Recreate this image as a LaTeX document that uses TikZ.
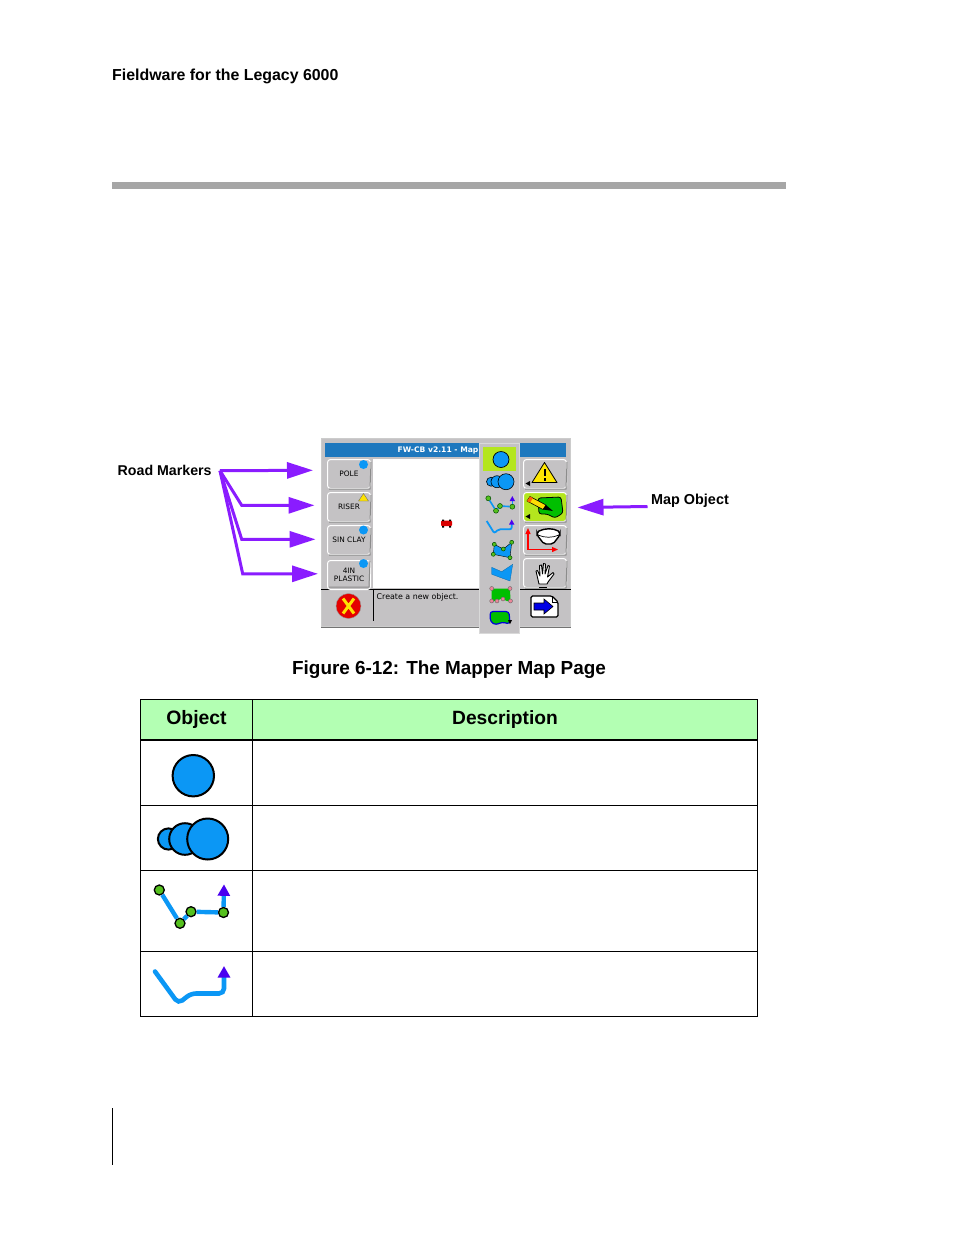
\documentclass[tikz,border=0pt]{standalone}
\usepackage{fontspec}
\setmainfont{Liberation Sans}
\newfontfamily\screenfont{DejaVu Sans}
\usetikzlibrary{arrows.meta,calc}
\definecolor{objblue}{HTML}{0B97F5}
\definecolor{arrowpurple}{HTML}{8A1CFF}
\definecolor{tiparrow}{HTML}{4A00F0}
\definecolor{dotgreen}{HTML}{55C01E}
\definecolor{headgreen}{HTML}{B3FFB3}
\definecolor{limehi}{HTML}{B4E61E}
\definecolor{panelgrey}{HTML}{C4C2C4}
\definecolor{titleblue}{HTML}{1E78BE}

\begin{document}
\begin{tikzpicture}[x=1pt,y=-1pt] % one unit is one pixel of the page, y runs down
\tikzset{pagetext/.style={font=\bfseries\fontsize{#1}{#1}\selectfont,inner sep=0pt}}
\tikzset{callout/.style={draw=arrowpurple,line width=3pt,-{Triangle[length=26pt,width=16pt]}}}
\tikzset{softkey/.style={draw=white,fill=panelgrey,rounded corners=3pt,line width=1pt,minimum width=43pt,minimum height=29pt,inner sep=0pt,anchor=north west,align=center,font=\screenfont\fontsize{7.4}{8.2}\selectfont}}
\tikzset{tablecell/.style={draw=black,line width=0.8pt}}
\tikzset{blobj/.style={draw=black,fill=objblue}}
\tikzset{bigdot/.style={circle,draw=black,fill=dotgreen,line width=1pt,minimum size=10pt,inner sep=0pt}}
\tikzset{smalldot/.style={circle,draw=black!70!green,fill=dotgreen,line width=0.5pt,minimum size=5pt,inner sep=0pt}}
\tikzset{pinkdot/.style={circle,draw=black!60,fill=pink!70!purple,line width=0.4pt,minimum size=4pt,inner sep=0pt}}
\useasboundingbox[fill=white] (0,0) rectangle (954,1235);

% page furniture
\node[pagetext=15.9,anchor=west] (runninghead) at (112,76.3) {Fieldware for the Legacy 6000};
\fill[black!35] (112,182) rectangle (785.5,189);
\draw[line width=1pt] (112.5,1108) -- (112.5,1165);

% the screen
\fill[panelgrey,draw=black!20,line width=0.8pt] (321,438) rectangle (570.5,626);
\draw[black!55,line width=0.8pt] (321,627) -- (570.5,627);
\fill[titleblue] (325,443) rectangle (566,457);
\node[font=\screenfont\bfseries\fontsize{7.6}{8}\selectfont,text=white,inner sep=0pt,anchor=west] (titletext) at (397.5,450) {FW-CB v2.11 - Map};
\fill[white] (373,459) rectangle (480,588);
\draw[black,line width=1pt] (321,589) -- (570.5,589);
\draw[black,line width=1pt] (373,589) -- (373,621);
\node[softkey] (polekey) at (327,459) {POLE};
\node[softkey] (riserkey) at (327,492) {RISER};
\node[softkey] (sinkey) at (327,525) {SIN CLAY};
\node[softkey,yshift=-2pt] (plastickey) at (327,558) {4IN\\PLASTIC};
\fill[objblue] (363.5,464.5) circle (4.5);
\fill[objblue] (363.5,530) circle (4.5);
\fill[objblue] (363.5,563.5) circle (4.5);
\draw[black!60,fill=yellow!85!orange,line width=0.3pt] (363.5,493.5) -- (368.5,501) -- (358.5,501) -- cycle;
\node[softkey] (warnkey) at (523,459) {};
\node[softkey,fill=limehi] (drawkey) at (523,492) {};
\node[softkey] (axeskey) at (523,525) {};
\node[softkey] (handkey) at (523,558) {};
\foreach \keyname in {polekey,riserkey,sinkey,warnkey,drawkey,axeskey,handkey} \draw[black!45,line width=1pt] ($(\keyname.south west)+(2,0)$) -- ($(\keyname.south east)+(-1,0)$) -- ($(\keyname.north east)+(0,3)$);
\draw[black!45,line width=1pt] (329,587) -- (369,587) -- (370,561);

% red marker in the map
\fill[red!85!black,rounded corners=1pt] (441,520.5) rectangle (452,526);
\fill[black] (442,519.5) rectangle (444,521) (449,519.5) rectangle (451,521) (442,526) rectangle (444,527.5) (449,526) rectangle (451,527.5);

\node[font=\screenfont\fontsize{7.9}{9}\selectfont,inner sep=0pt,anchor=west] (statustext) at (376.5,597) {Create a new object.};
\node[circle,fill=red!90!black,draw=black!40,minimum size=25pt,inner sep=0pt] (cancelbtn) at (348.5,606) {};
\draw[yellow!85!orange,line width=3pt] (343,598.5) -- (354,613.5) (354,598.5) -- (343,613.5);

% right hand icons
\draw[black,fill=yellow!90!orange,line width=0.8pt,line join=round] (544.5,462.5) -- (557,482.5) -- (532,482.5) -- cycle;
\draw[black,line width=2pt] (544.5,469) -- (544.5,476) (544.5,478) -- (544.5,480.5);
\fill[black] (525.5,483.5) -- (530,481) -- (530,486) -- cycle;
\draw[black,fill=green!75!black,line width=0.8pt,rounded corners=2.5pt] (538,498) -- (561,497) -- (563,513) -- (555,518) -- (547,514) -- (539,514) -- cycle;
\draw[black,fill=yellow!80!orange,line width=0.6pt] (527,501) -- (530,496.5) -- (546,505) -- (543,509.5) -- cycle;
\fill[orange!80!red] (527,501) -- (530,496.5) -- (533,498) -- (530,502.6) -- cycle;
\fill[black] (543,509.5) -- (546,505) -- (553,511) -- cycle;
\fill[black] (525.5,516.5) -- (530,514) -- (530,519) -- cycle;
\draw[red,line width=1.2pt,-{Triangle[length=6pt,width=5pt]}] (528,549.5) -- (528,528);
\draw[red,line width=1.2pt,-{Triangle[length=6pt,width=5pt]}] (528,549.5) -- (558,549.5);
\draw[black,fill=white,line width=1.4pt,rounded corners=2pt] (537,532) .. controls (545,528) and (553,528) .. (560,532) -- (560,535) -- (553,544) -- (544,544) -- (537,535) -- cycle;
\draw[black,line width=0.7pt] (538,535) .. controls (545,538) and (552,538) .. (559,535);
% the hand
\draw[black,fill=white,line width=0.9pt,line join=round] (539,584) -- (536,571) -- (537.5,570.5) -- (540,576) -- (539.5,565.5) -- (541.5,565) -- (542.5,574) -- (543.5,563.5) -- (545.5,564) -- (545,574) -- (548,565.5) -- (549.5,566) -- (547.5,577) -- (553,572.5) -- (554,574) -- (548,582) -- (547,584) -- cycle;
\draw[black,line width=0.6pt] (539,587) -- (547,587);
% page with arrow
\draw[black,fill=white,line width=1.2pt,rounded corners=1.5pt] (531,596) -- (552,596) -- (558,602) -- (558,617) -- (531,617) -- cycle;
\draw[black,line width=0.7pt] (552,596) -- (552,602) -- (558,602);
\draw[black,fill=blue!90!black,line width=0.6pt] (534,603) -- (544,603) -- (544,599) -- (553,606.5) -- (544,614) -- (544,610) -- (534,610) -- cycle;

% the pop-up menu
\fill[panelgrey,draw=white!85!black,line width=0.8pt] (479.5,443) rectangle (519,633);
\fill[limehi] (483,447) rectangle (516,471);
\draw[blobj,line width=0.7pt] (501,459.5) circle (8);
\draw[blobj,line width=0.6pt] (491,481.7) circle (4.5);
\draw[blobj,line width=0.6pt] (497,481.7) circle (6);
\draw[blobj,line width=0.6pt] (506,481.7) circle (8);
\node[smalldot] (mdotA) at (488.3,498.3) {};
\node[smalldot] (mdotB) at (496,510.7) {};
\node[smalldot] (mdotC) at (500,506) {};
\node[smalldot] (mdotD) at (512.3,506.7) {};
\coordinate (mtipA) at (512.3,496);
\draw[objblue,line width=1.6pt] (mdotA) -- (mdotB) -- (mdotC) -- (mdotD);
\draw[objblue,line width=1.6pt,-{Triangle[length=5pt,width=5pt,color=tiparrow]}] (mdotD) -- (mtipA);
\draw[objblue,line width=1.8pt,rounded corners=2pt,-{Triangle[length=5pt,width=5pt,color=tiparrow]}] (486.7,521) -- (494.3,533.3) -- (498.3,529.3) -- (511.7,529.3) -- (511.7,519.5);
\draw[blobj,line width=0.4pt,fill=objblue] (494.3,544.3) -- (503.3,549) -- (511.7,542.3) -- (510,557.7) -- (493.3,554.3) -- cycle;
\foreach \px/\py in {494.3/544.3,503.3/549,511.7/542.3,510/557.7,493.3/554.3} \node[smalldot,minimum size=4pt] at (\px,\py) {};
\draw[blobj,line width=0.3pt,draw=objblue!70!black] (491.7,567.3) -- (501.7,571.7) -- (512.7,564.3) -- (510,581) -- (491.7,574.3) -- cycle;
\fill[green!75!black,rounded corners=2pt] (491.5,588.5) -- (510,588.5) -- (510.5,601) -- (505,601) -- (502,598) -- (497,601) -- (491.5,601) -- cycle;
\foreach \px/\py in {491.7/588.5,510/588.5,510.5/601,503/599,497/601,491.7/601} \node[pinkdot] at (\px,\py) {};
\draw[blue!85!black,fill=green!75!black,line width=1.2pt,rounded corners=3pt] (490,611.5) -- (509,611.5) -- (510,624) -- (502,622) -- (496,625) -- (490.5,622) -- cycle;
\fill[black] (508,620) -- (512,620) -- (510,624) -- cycle;

% callouts
\node[pagetext=14.2,anchor=west] (roadmarkers) at (117.5,470.5) {Road Markers};
\node[pagetext=14.4,anchor=west] (mapobject) at (651,500.3) {Map Object};
\coordinate (markerhub) at (220,470.7);
\coordinate (tipA) at (313,470.3);
\coordinate (bendB) at (241.7,505.3);
\coordinate (tipB) at (314.5,505.3);
\coordinate (bendC) at (241.7,539.3);
\coordinate (tipC) at (315.5,539.3);
\coordinate (bendD) at (242.7,573.8);
\coordinate (tipD) at (318,573.8);
\coordinate (objecttail) at (647.5,506.5);
\coordinate (objecttip) at (577.5,507.5);
\draw[callout] (markerhub) -- (tipA);
\draw[callout] (markerhub) -- (bendB) -- (tipB);
\draw[callout] (markerhub) -- (bendC) -- (tipC);
\draw[callout] (markerhub) -- (bendD) -- (tipD);
\draw[callout] (objecttail) -- (objecttip);

\node[pagetext=18.9] (caption) at (449,669.8) {Figure 6-12: The Mapper Map Page};

% the table
\fill[headgreen] (141,699.5) rectangle (757.5,740);
\node[pagetext=19.4] (objecthead) at (196.5,719.8) {Object};
\node[pagetext=19.2] (descrhead) at (505,719.5) {Description};
\draw[tablecell] (140.5,699.5) rectangle (757.5,1016.5);
\draw[tablecell] (252.5,699.5) -- (252.5,1016.5);
\draw[black,line width=2.8pt] (140.5,740) -- (757.5,740);
\foreach \rowy in {805.5,870.5,951.5} \draw[tablecell] (140.5,\rowy) -- (757.5,\rowy);

\draw[blobj,line width=2pt] (193.3,775.7) circle (20.7);
\draw[blobj,line width=2pt] (168.5,839) circle (10.6);
\draw[blobj,line width=2pt] (185,839) circle (15.8);
\draw[blobj,line width=2pt] (207.7,839) circle (20.5);

\node[bigdot,line width=1.3pt] (dotA) at (159.3,890) {};
\node[bigdot,line width=1.3pt] (dotB) at (180,923.3) {};
\node[bigdot,line width=1.3pt] (dotC) at (191,911.7) {};
\node[bigdot,line width=1.3pt] (dotD) at (223.5,912.5) {};
\coordinate (tipE) at (224,884.3);
\draw[objblue,line width=4.4pt] (dotA) -- (dotB);
\draw[objblue,line width=4.4pt] (dotB) -- (dotC);
\draw[objblue,line width=4.4pt] (dotC) -- (dotD);
\draw[objblue,line width=4.4pt,-{Triangle[length=11.5pt,width=12pt,color=tiparrow]}] (dotD) -- (tipE);

\coordinate (runA) at (155,971.5);
\coordinate (runB) at (178.3,1003.5);
\coordinate (runC) at (191,993.5);
\coordinate (runD) at (224,993.5);
\coordinate (tipF) at (224,966);
\draw[objblue,line width=4.6pt,line cap=round,rounded corners=5pt,-{Triangle[length=11.5pt,width=12pt,color=tiparrow]}] (runA) -- (runB) -- (runC) -- (runD) -- (tipF);
\end{tikzpicture}
\end{document}
